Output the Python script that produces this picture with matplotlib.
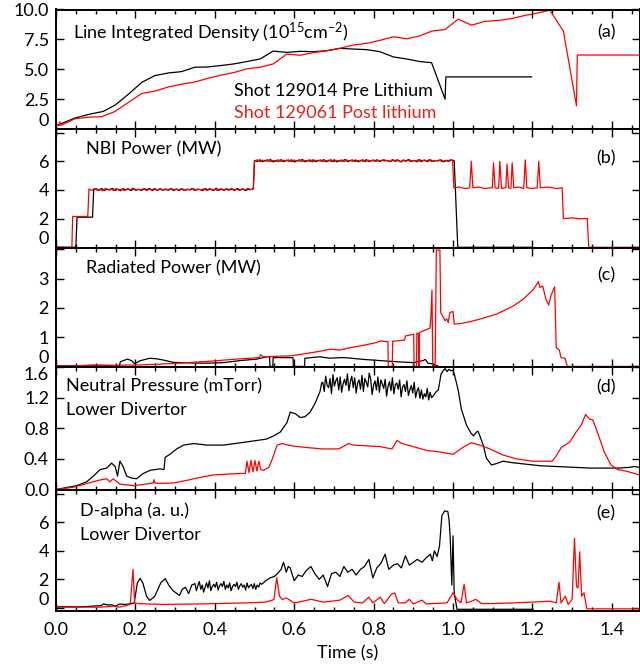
import numpy as np
import matplotlib
matplotlib.use("Agg")
import matplotlib.pyplot as plt
from matplotlib.ticker import MultipleLocator, FormatStrFormatter

plt.rcParams['font.family'] = ['Lato', 'DejaVu Sans']
plt.rcParams['mathtext.fontset'] = 'custom'
plt.rcParams['mathtext.rm'] = 'Lato'
plt.rcParams['mathtext.default'] = 'regular'

RED = '#ff0000'
BLK = '#000000'

# ---------------- (a) Line integrated density ----------------
ne_pre_t = [0.0, 0.002, 0.048, 0.086, 0.119, 0.149, 0.182, 0.216, 0.249, 0.283, 0.316, 0.350,
            0.380, 0.413, 0.447, 0.480, 0.514, 0.547, 0.581, 0.615, 0.648, 0.682, 0.715, 0.749,
            0.783, 0.816, 0.850, 0.883, 0.917, 0.946, 0.980, 0.982, 1.198]
ne_pre_v = [0.3, 0.3, 0.92, 1.25, 1.47, 2.0, 2.9, 3.9, 4.47, 4.69, 4.8, 5.17,
            5.19, 5.3, 5.44, 5.64, 5.86, 6.52, 6.41, 6.5, 6.47, 6.55, 6.75, 6.69,
            6.64, 6.47, 6.03, 5.86, 5.64, 5.55, 2.5, 4.36, 4.36]
ne_post_t = [0.0, 0.002, 0.008, 0.010, 0.012, 0.048, 0.086, 0.115, 0.149, 0.182, 0.216, 0.249,
             0.283, 0.316, 0.350, 0.384, 0.417, 0.451, 0.480, 0.514, 0.547, 0.581, 0.615, 0.648,
             0.682, 0.715, 0.749, 0.783, 0.816, 0.850, 0.883, 0.917, 0.946, 0.980, 1.013, 1.047,
             1.080, 1.114, 1.148, 1.181, 1.215, 1.244, 1.278, 1.311, 1.313, 1.48]
ne_post_v = [0.3, 0.3, 0.3, 0.6, 0.3, 0.86, 1.0, 1.03, 1.47, 2.22, 2.97, 3.17,
             3.52, 3.75, 3.94, 4.25, 4.52, 4.75, 5.03, 5.17, 5.44, 6.27, 6.17, 6.39,
             6.55, 6.75, 7.03, 7.17, 7.42, 7.72, 7.55, 7.8, 8.19, 8.33, 9.19, 8.69,
             9.0, 9.08, 9.25, 9.5, 9.72, 9.94, 8.19, 1.94, 6.19, 6.19]

# ---------------- (b) NBI power ----------------
nbi_pre_start_t = [0.0, 0.050, 0.053, 0.092, 0.095]
nbi_pre_start_v = [0.0, 0.0, 2.1, 2.1, 4.05]
nbi_pre_4 = [4.02, 4.08, 3.97, 4.10, 3.95, 4.06, 4.00, 4.11, 3.96, 4.05, 3.94, 4.09, 4.01, 4.07,
             3.95, 4.10, 3.99, 4.04, 3.96, 4.08, 4.02, 4.11, 3.95, 4.05, 3.98, 4.09, 3.97, 4.04,
             4.00, 4.10, 3.95, 4.06, 3.99, 4.08, 3.96, 4.03, 4.01, 4.10, 3.97, 4.05, 4.02,
             3.96, 4.09, 4.00, 4.06, 3.95, 4.11, 3.98, 4.04, 3.97, 4.08, 4.01, 4.05, 3.96, 4.10,
             3.99, 4.07, 3.95, 4.04, 4.02, 4.09]
nbi_pre_6 = [6.05, 5.98, 6.10, 5.96, 6.07, 6.01, 6.12, 5.95, 6.06, 5.99, 6.11, 5.97, 6.08, 6.00,
             6.10, 5.95, 6.05, 6.02, 6.12, 5.96, 6.07, 5.99, 6.10, 5.97, 6.06, 6.01, 6.11, 5.96,
             6.08, 5.98, 6.10, 5.95, 6.06, 6.00, 6.12, 5.97, 6.05, 6.01, 6.09, 5.96, 6.07, 5.99,
             6.11, 5.97, 6.06, 6.02, 6.10, 5.98, 6.08, 6.03, 6.05, 5.97, 6.11, 6.00, 6.07, 5.95,
             6.09, 6.01, 6.12, 5.98, 6.06, 5.96, 6.10, 6.02, 6.08, 5.97, 6.11, 5.99, 6.05, 6.03,
             6.10, 5.96, 6.07, 6.00, 6.09, 6.04]
nbi_pre_end_t = [1.012, 1.198]
nbi_pre_end_v = [0.0, 0.0]

nbi_post_start_t = [0.0, 0.040, 0.042, 0.080, 0.083]
nbi_post_start_v = [0.0, 0.0, 2.15, 2.15, 4.05]
nbi_post_4 = [4.06, 3.97, 4.09, 3.98, 4.04, 3.94, 4.11, 4.00, 4.07, 3.96, 4.10, 3.99, 4.03, 3.95,
              4.08, 4.01, 4.12, 3.96, 4.05, 3.98, 4.09, 3.95, 4.06, 4.00, 4.11, 3.97, 4.04, 3.99,
              4.08, 3.96, 4.10, 4.01, 4.05, 3.95, 4.09, 3.98, 4.06, 4.00, 4.11, 3.97, 4.05,
              4.01, 4.08, 3.95, 4.10, 3.99, 4.04, 3.96, 4.09, 4.02, 4.06, 3.97, 4.11, 4.00, 4.05,
              3.96, 4.08, 3.99, 4.10, 4.03, 4.06]
nbi_post_6 = [6.03, 6.10, 5.97, 6.08, 6.00, 6.12, 5.96, 6.06, 5.99, 6.11, 5.98, 6.07, 6.02, 6.10,
              5.96, 6.09, 6.01, 6.12, 5.97, 6.05, 6.00, 6.11, 5.95, 6.08, 6.02, 6.10, 5.97, 6.06,
              6.01, 6.12, 5.96, 6.07, 5.99, 6.10, 5.98, 6.09, 6.02, 6.11, 5.97, 6.06, 6.00, 6.12,
              5.96, 6.08, 6.01, 6.10, 5.98, 6.07, 6.03, 6.11, 6.05, 5.98, 6.09, 6.01, 6.12, 5.96,
              6.07, 6.00, 6.10, 5.97, 6.06, 6.02, 6.11, 5.95, 6.08, 6.01, 6.10, 5.98, 6.06, 6.03,
              6.09, 5.97, 6.05, 6.01, 6.10, 6.06]
nbi_post_late_t = [1.002, 1.015, 1.030, 1.042, 1.046, 1.050, 1.065, 1.080, 1.095, 1.099,
                   1.102, 1.106, 1.112, 1.115, 1.118, 1.122, 1.130, 1.133, 1.136, 1.140,
                   1.144, 1.146, 1.149, 1.153, 1.165, 1.178, 1.182, 1.186, 1.200, 1.212,
                   1.216, 1.220, 1.240, 1.260, 1.275, 1.278, 1.300, 1.320, 1.338, 1.342, 1.48]
nbi_post_late_v = [4.15, 4.20, 4.10, 4.15, 6.00, 4.15, 4.20, 4.10, 4.15, 4.15,
                   5.90, 4.15, 4.10, 4.15, 6.00, 4.10, 4.15, 4.15, 5.80, 4.15,
                   4.10, 4.15, 5.90, 4.15, 4.20, 4.10, 6.10, 4.15, 4.10, 4.15,
                   6.00, 4.15, 4.20, 4.10, 4.15, 2.00, 2.05, 1.98, 2.02, 0.0, 0.0]

# ---------------- (c) Radiated power ----------------
rad_pre_t = [0.0, 0.160, 0.162, 0.180, 0.190, 0.198, 0.211, 0.236, 0.253, 0.270, 0.295, 0.337,
             0.380, 0.422, 0.464, 0.506, 0.531, 0.538, 0.539, 0.546, 0.547, 0.597, 0.598, 0.626,
             0.627, 0.665, 0.690, 0.715, 0.728, 0.774, 0.816, 0.858, 0.900, 0.925, 0.930, 0.937,
             0.950, 0.963]
rad_pre_v = [0.02, 0.02, 0.16, 0.25, 0.20, 0.09, 0.19, 0.28, 0.26, 0.22, 0.14, 0.12,
             0.11, 0.13, 0.20, 0.25, 0.33, 0.33, 0.0, 0.0, 0.30, 0.30, 0.0, 0.0,
             0.28, 0.33, 0.28, 0.30, 0.30, 0.24, 0.20, 0.16, 0.13, 0.20, 0.24, 0.11,
             0.08, 0.0]
rad_post_t = [0.0, 0.050, 0.094, 0.150, 0.211, 0.295, 0.380, 0.464, 0.512, 0.516, 0.522, 0.590,
              0.620, 0.657, 0.690, 0.715, 0.740, 0.774, 0.808, 0.816, 0.836, 0.837, 0.847, 0.848,
              0.878, 0.880, 0.901, 0.902, 0.908, 0.909, 0.913, 0.914, 0.915, 0.942, 0.944, 0.947,
              0.949, 0.955, 0.958, 0.967, 0.969, 0.976, 0.980, 0.984, 0.988, 0.992, 1.000, 1.003,
              1.017, 1.043, 1.068, 1.110, 1.152, 1.177, 1.203, 1.215, 1.219, 1.226, 1.234, 1.241,
              1.247, 1.256, 1.260, 1.268, 1.272, 1.282, 1.288, 1.48]
rad_post_v = [0.0, 0.02, 0.05, 0.04, 0.05, 0.10, 0.17, 0.26, 0.30, 0.40, 0.33, 0.36,
              0.42, 0.50, 0.59, 0.56, 0.64, 0.72, 0.82, 0.87, 0.84, 0.0, 0.0, 0.86,
              0.90, 1.04, 1.10, 0.0, 0.0, 1.14, 1.12, 0.0, 1.16, 1.31, 1.61, 2.61,
              0.0, 0.0, 3.98, 3.98, 1.84, 1.67, 1.56, 1.63, 1.50, 1.84, 1.88, 1.45,
              1.46, 1.53, 1.62, 1.79, 2.07, 2.30, 2.64, 2.90, 2.70, 2.75, 2.30, 2.10,
              2.43, 2.72, 0.64, 0.55, 0.30, 0.28, 0.0, 0.0]

# ---------------- (d) Neutral pressure ----------------
p_pre_a_t = [0.0, 0.027, 0.052, 0.077, 0.094, 0.111, 0.128, 0.140, 0.149, 0.155, 0.161, 0.169,
             0.178, 0.190, 0.203, 0.220, 0.237, 0.262, 0.272, 0.275, 0.287, 0.304, 0.321, 0.347,
             0.380, 0.422, 0.464, 0.506, 0.531, 0.548, 0.565, 0.582, 0.590, 0.603, 0.615, 0.627,
             0.640, 0.653, 0.665, 0.669]
p_pre_a_v = [0.0, 0.026, 0.05, 0.10, 0.175, 0.26, 0.28, 0.345, 0.30, 0.175, 0.37, 0.30,
             0.175, 0.15, 0.14, 0.21, 0.25, 0.27, 0.26, 0.42, 0.46, 0.53, 0.58, 0.60,
             0.58, 0.58, 0.61, 0.64, 0.66, 0.70, 0.75, 0.877, 1.01, 0.99, 0.94, 0.95,
             1.01, 1.13, 1.28, 1.39]
p_pre_band = [1.40, 1.28, 1.48, 1.36, 1.33, 1.45, 1.25, 1.50, 1.35, 1.42, 1.46, 1.30, 1.47, 1.27,
              1.38, 1.44, 1.36, 1.51, 1.29, 1.41, 1.48, 1.33, 1.46, 1.26, 1.39, 1.43, 1.31, 1.49,
              1.28, 1.45, 1.40, 1.34, 1.52, 1.45, 1.24, 1.36, 1.42, 1.30, 1.47, 1.27, 1.43, 1.38,
              1.32, 1.44, 1.22, 1.35, 1.41, 1.29, 1.46, 1.25, 1.37, 1.39, 1.31, 1.43, 1.21, 1.34,
              1.37, 1.28, 1.42, 1.23, 1.30, 1.36, 1.26, 1.40, 1.20, 1.29, 1.33, 1.19, 1.30, 1.18,
              1.25, 1.21, 1.32, 1.17, 1.27, 1.20]
p_pre_b_t = [0.950, 0.958, 0.963, 0.970, 0.975, 0.980, 0.985, 0.990, 0.995, 1.000, 1.005, 1.013,
             1.021, 1.034, 1.046, 1.052, 1.059, 1.063, 1.067, 1.076, 1.084, 1.097, 1.110, 1.126,
             1.150, 1.177, 1.220, 1.260, 1.300, 1.345, 1.380, 1.420, 1.445, 1.456, 1.470]
p_pre_b_v = [1.22, 1.28, 1.30, 1.51, 1.55, 1.58, 1.54, 1.57, 1.55, 1.56, 1.47, 1.30,
             1.05, 0.84, 0.73, 0.70, 0.75, 0.76, 0.71, 0.58, 0.41, 0.32, 0.34, 0.37,
             0.35, 0.335, 0.31, 0.30, 0.29, 0.28, 0.28, 0.28, 0.29, 0.30, 0.29]
p_post_t = [0.0, 0.044, 0.086, 0.107, 0.128, 0.136, 0.144, 0.161, 0.195, 0.212, 0.245, 0.247,
            0.249, 0.262, 0.296, 0.330, 0.364, 0.397, 0.431, 0.464, 0.477, 0.481, 0.486, 0.491,
            0.496, 0.501, 0.506, 0.511, 0.516, 0.523, 0.536, 0.545, 0.557, 0.569, 0.594, 0.628,
            0.670, 0.712, 0.737, 0.749, 0.783, 0.816, 0.846, 0.859, 0.871, 0.900, 0.934, 0.967,
            1.000, 1.025, 1.046, 1.067, 1.093, 1.126, 1.160, 1.200, 1.250, 1.260, 1.273, 1.294,
            1.310, 1.323, 1.334, 1.344, 1.352, 1.365, 1.381, 1.398, 1.415, 1.436, 1.470]
p_post_v = [0.0, 0.03, 0.09, 0.12, 0.14, 0.10, 0.14, 0.07, 0.05, 0.06, 0.085, 0.13,
            0.085, 0.08, 0.085, 0.12, 0.16, 0.19, 0.20, 0.21, 0.21, 0.37, 0.22, 0.38,
            0.23, 0.38, 0.24, 0.37, 0.26, 0.25, 0.29, 0.40, 0.58, 0.60, 0.57, 0.55,
            0.53, 0.53, 0.60, 0.58, 0.57, 0.56, 0.53, 0.64, 0.60, 0.56, 0.51, 0.49,
            0.46, 0.55, 0.61, 0.58, 0.53, 0.45, 0.40, 0.37, 0.37, 0.44, 0.55, 0.62,
            0.75, 0.84, 0.98, 0.92, 0.91, 0.73, 0.49, 0.32, 0.26, 0.24, 0.19]

# ---------------- (e) D-alpha ----------------
da_pre_a_t = [0.0, 0.062, 0.114, 0.120, 0.130, 0.140, 0.150, 0.160, 0.176, 0.190, 0.197, 0.205,
              0.212, 0.219, 0.228, 0.236, 0.249, 0.264, 0.275, 0.280, 0.285, 0.295, 0.311, 0.318,
              0.326, 0.334, 0.342]
da_pre_a_v = [0.08, 0.07, 0.16, 0.28, 0.20, 0.22, 0.12, 0.27, 0.24, 0.30, 0.35, 1.76,
              2.07, 1.72, 0.82, 0.52, 0.82, 1.76, 2.05, 1.80, 1.55, 1.20, 0.87, 1.30,
              1.45, 1.00, 1.60]
da_pre_band = [1.70, 1.20, 1.55, 1.85, 1.30, 1.60, 1.10, 1.45, 1.75, 1.40, 1.90, 1.20, 1.50, 1.65,
               1.45, 1.80, 1.25, 1.55, 1.70, 1.50, 1.85, 1.30, 1.60, 1.40, 1.75, 1.20, 1.50, 1.65,
               1.50, 1.80, 1.30, 1.55, 1.70, 1.45, 1.60, 1.25, 1.75, 1.40, 1.55, 1.65, 1.35, 1.70,
               1.30, 1.60, 1.45, 1.75]
da_pre_b_t = [0.518, 0.528, 0.539, 0.550, 0.560, 0.567, 0.573, 0.580, 0.585, 0.590, 0.600, 0.610,
              0.620, 0.630, 0.642, 0.652, 0.663, 0.673, 0.684, 0.694, 0.705, 0.715, 0.725, 0.735,
              0.746, 0.756, 0.767, 0.777, 0.788, 0.798, 0.808, 0.818, 0.829, 0.838, 0.850, 0.860,
              0.870, 0.880, 0.890, 0.900, 0.910, 0.922, 0.932, 0.943, 0.948, 0.953, 0.960, 0.966,
              0.972, 0.979, 0.987, 0.990, 0.993, 0.997, 1.000, 1.003, 1.010, 1.202]
da_pre_b_v = [1.65, 1.90, 2.10, 2.20, 2.47, 2.70, 3.20, 2.50, 2.90, 2.80, 1.90, 2.30,
              2.20, 2.60, 2.90, 2.40, 2.00, 2.30, 1.50, 2.40, 2.50, 2.20, 2.90, 2.50,
              2.70, 2.30, 2.70, 2.90, 3.40, 2.10, 2.80, 3.10, 3.76, 2.70, 3.00, 3.10,
              2.80, 3.65, 3.00, 3.20, 3.40, 3.20, 3.50, 3.76, 3.30, 4.00, 3.60, 4.35,
              6.47, 6.80, 6.75, 6.20, 4.90, 1.60, 5.05, 1.06, -0.10, -0.10]
da_post_t = [0.0, 0.114, 0.145, 0.160, 0.187, 0.194, 0.198, 0.207, 0.270, 0.373, 0.477, 0.528,
             0.549, 0.556, 0.563, 0.570, 0.580, 0.600, 0.622, 0.642, 0.674, 0.715, 0.736, 0.751,
             0.772, 0.788, 0.798, 0.817, 0.827, 0.845, 0.853, 0.862, 0.880, 0.890, 0.900, 0.922,
             0.932, 0.985, 1.000, 1.010, 1.020, 1.028, 1.034, 1.047, 1.057, 1.072, 1.100, 1.150,
             1.200, 1.244, 1.260, 1.267, 1.272, 1.283, 1.290, 1.300, 1.306, 1.311, 1.315, 1.319,
             1.324, 1.330, 1.337, 1.480]
da_post_v = [0.05, 0.05, 0.12, 0.05, 0.24, 2.70, 0.35, 0.30, 0.24, 0.28, 0.35, 0.40,
             0.58, 2.10, 0.82, 0.58, 0.70, 0.35, 0.47, 0.60, 0.40, 0.54, 0.87, 0.40,
             0.35, 0.75, 0.35, 0.75, 0.30, 0.95, 1.06, 0.35, 0.35, 0.60, 0.28, 0.54,
             0.28, 0.35, 1.06, 0.60, 0.35, 1.65, 0.35, 0.47, 0.60, 0.30, 0.30, 0.35,
             0.40, 0.47, 0.35, 1.80, 0.35, 0.82, 0.24, 0.60, 4.87, 1.50, 1.40, 3.93,
             0.82, 1.06, -0.07, -0.07]

# ---------------- assemble series ----------------
nbi_pre_t = np.concatenate([nbi_pre_start_t, np.linspace(0.095, 0.497, len(nbi_pre_4)),
                            np.linspace(0.500, 1.003, len(nbi_pre_6)), nbi_pre_end_t])
nbi_pre_v = np.concatenate([nbi_pre_start_v, nbi_pre_4, nbi_pre_6, nbi_pre_end_v])
nbi_post_t = np.concatenate([nbi_post_start_t, np.linspace(0.083, 0.497, len(nbi_post_4)),
                             np.linspace(0.500, 0.999, len(nbi_post_6)), nbi_post_late_t])
nbi_post_v = np.concatenate([nbi_post_start_v, nbi_post_4, nbi_post_6, nbi_post_late_v])
p_pre_t = np.concatenate([p_pre_a_t, np.linspace(0.672, 0.946, len(p_pre_band)), p_pre_b_t])
p_pre_v = np.concatenate([p_pre_a_v, p_pre_band, p_pre_b_v])
da_pre_t = np.concatenate([da_pre_a_t, np.linspace(0.350, 0.514, len(da_pre_band)), da_pre_b_t])
da_pre_v = np.concatenate([da_pre_a_v, da_pre_band, da_pre_b_v])

# ---------------- figure ----------------
fig = plt.figure(figsize=(6.4, 6.68), dpi=100)
H = 668.0
edges = [9.5, 129.0, 248.0, 367.0, 489.5, 611.0]
L, R = 56 / 640, 1.0
axes = []
for i in range(5):
    y0 = 1 - edges[i + 1] / H
    h = (edges[i + 1] - edges[i]) / H
    ax = fig.add_axes([L, y0, R - L, h])
    axes.append(ax)

lw = 0.9
ax = axes[0]
ax.plot(ne_pre_t, ne_pre_v, color=BLK, lw=lw)
ax.plot(ne_post_t, ne_post_v, color=RED, lw=lw)
ax.set_ylim(0, 10.0)
ax.set_yticks([0, 2.5, 5.0, 7.5, 10.0], ['0', '2.5', '5.0', '7.5', '10.0'])

ax = axes[1]
ax.plot(nbi_pre_t, nbi_pre_v, color=BLK, lw=lw)
ax.plot(nbi_post_t, nbi_post_v, color=RED, lw=lw)
ax.set_ylim(-0.05, 8.25)
ax.set_yticks([0, 2, 4, 6, 8], ['0', '2', '4', '6', ''])

ax = axes[2]
ax.plot(rad_pre_t, rad_pre_v, color=BLK, lw=lw)
ax.plot(rad_post_t, rad_post_v, color=RED, lw=lw)
ax.set_ylim(-0.02, 4.05)
ax.set_yticks([0, 1, 2, 3, 4], ['0', '1', '2', '3', ''])

ax = axes[3]
ax.plot(p_pre_t, p_pre_v, color=BLK, lw=lw)
ax.plot(p_post_t, p_post_v, color=RED, lw=lw)
ax.set_ylim(0, 1.585)
ax.set_yticks([0, 0.4, 0.8, 1.2, 1.6], ['0.0', '0.4', '0.8', '1.2', '1.6'])

ax = axes[4]
ax.plot(da_pre_t, da_pre_v, color=BLK, lw=lw)
ax.plot(da_post_t, da_post_v, color=RED, lw=lw)
ax.set_ylim(-0.22, 8.3)
ax.set_yticks([0, 2, 4, 6, 8], ['0', '2', '4', '6', ''])

for i, ax in enumerate(axes):
    ax.set_xlim(0, 1.471)
    ax.xaxis.set_major_locator(MultipleLocator(0.2))
    ax.xaxis.set_minor_locator(MultipleLocator(0.05))
    ax.tick_params(axis='both', which='both', direction='in', top=True, right=True,
                   labelsize=13, width=1.0)
    ax.tick_params(axis='both', which='major', length=6, pad=5)
    ax.tick_params(axis='x', which='minor', length=3)
    for sp in ax.spines.values():
        sp.set_linewidth(1.4)
    if i < 4:
        ax.tick_params(axis='x', labelbottom=False)
    else:
        ax.xaxis.set_major_formatter(FormatStrFormatter('%.1f'))
        ax.tick_params(axis='x', pad=8)
        ax.set_xlabel('Time (s)', fontsize=13, labelpad=5)
    if i != 3:
        ax.yaxis.get_major_ticks()[0].label1.set_va('bottom')
    else:
        ax.yaxis.get_major_ticks()[-1].label1.set_va('top')

def fx(px):
    return (px - 56) / 584.0

def fy(i, py):
    return 1 - (py - edges[i]) / (edges[i + 1] - edges[i])

fs = 13
axes[0].text(fx(73), fy(0, 33), r'Line Integrated Density (10$^{15}$cm$^{-2}$)', fontsize=fs,
             transform=axes[0].transAxes, va='center', ha='left')
axes[0].text(fx(234), fy(0, 91), 'Shot 129014 Pre Lithium', fontsize=fs, color=BLK,
             transform=axes[0].transAxes, va='center', ha='left')
axes[0].text(fx(234), fy(0, 113), 'Shot 129061 Post lithium', fontsize=fs, color='#e2231a',
             transform=axes[0].transAxes, va='center', ha='left')
axes[1].text(fx(86), fy(1, 149), 'NBI Power (MW)', fontsize=fs,
             transform=axes[1].transAxes, va='center', ha='left')
axes[2].text(fx(86), fy(2, 268), 'Radiated Power (MW)', fontsize=fs,
             transform=axes[2].transAxes, va='center', ha='left')
axes[3].text(fx(66), fy(3, 386), 'Neutral Pressure (mTorr)', fontsize=fs,
             transform=axes[3].transAxes, va='center', ha='left')
axes[3].text(fx(66), fy(3, 410), 'Lower Divertor', fontsize=fs,
             transform=axes[3].transAxes, va='center', ha='left')
axes[4].text(fx(80), fy(4, 511), 'D-alpha (a. u.)', fontsize=fs,
             transform=axes[4].transAxes, va='center', ha='left')
axes[4].text(fx(80), fy(4, 535), 'Lower Divertor', fontsize=fs,
             transform=axes[4].transAxes, va='center', ha='left')

panel_labels = ['(a)', '(b)', '(c)', '(d)', '(e)']
panel_y = [32, 158, 275, 387, 513]
for i, (lab, py) in enumerate(zip(panel_labels, panel_y)):
    axes[i].text(fx(606), fy(i, py), lab, fontsize=fs, transform=axes[i].transAxes,
                 va='center', ha='center')

fig.savefig('out.png', dpi=100)
